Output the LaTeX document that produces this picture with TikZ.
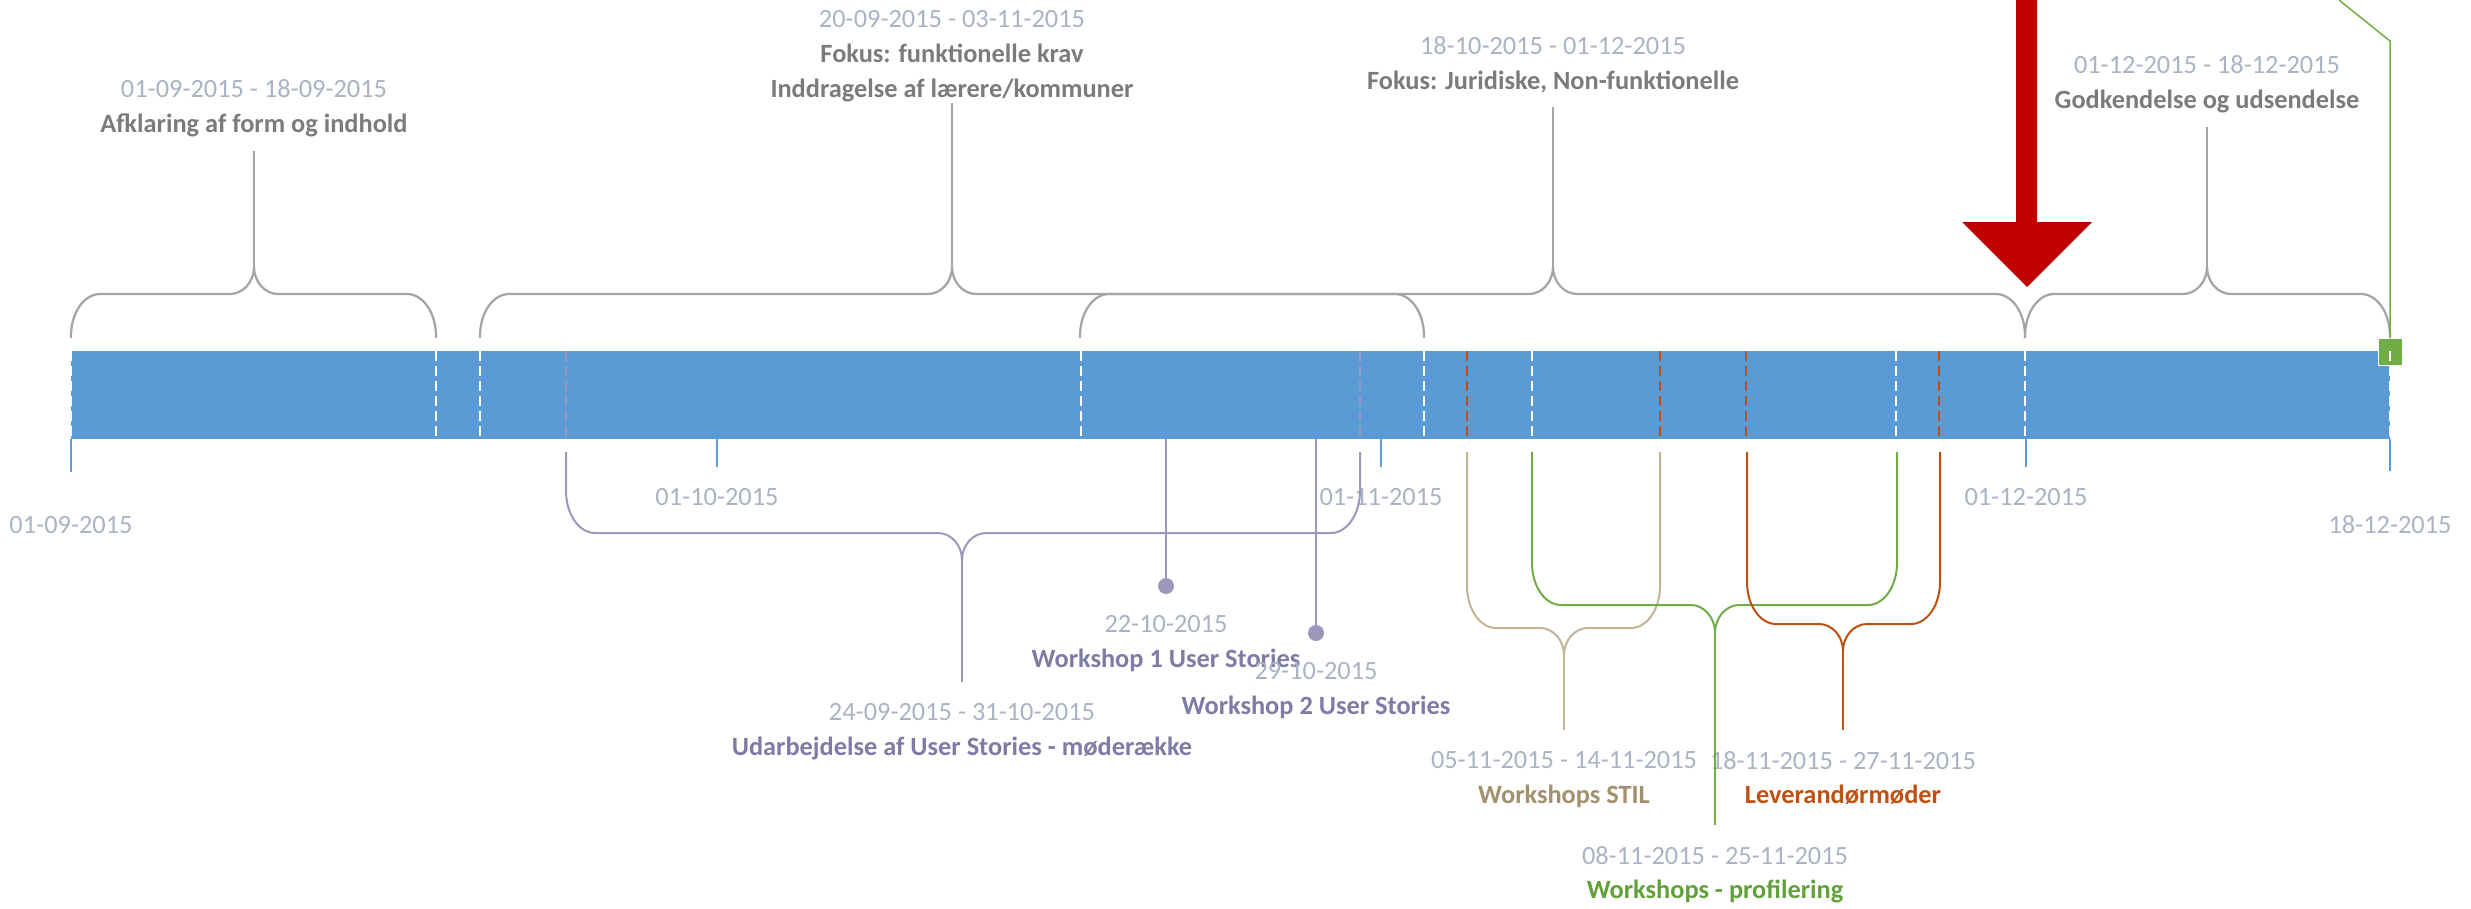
\documentclass[tikz,border=0pt]{standalone}
\usepackage{fontspec}
\setmainfont{Carlito}
\usetikzlibrary{positioning}
\definecolor{barblue}{HTML}{5B9BD5}
\definecolor{bracegray}{HTML}{A5A5A5}
\definecolor{titlegray}{HTML}{7B7B7B}
\definecolor{dategray}{HTML}{A9B3C4}
\definecolor{wspurple}{HTML}{9B98BC}
\definecolor{wspurpletext}{HTML}{7E7BA4}
\definecolor{stiltan}{HTML}{C4B496}
\definecolor{stiltext}{HTML}{A3906E}
\definecolor{profgreen}{HTML}{70AD47}
\definecolor{proftext}{HTML}{62A03A}
\definecolor{levorange}{HTML}{C0500F}
\definecolor{arrowred}{HTML}{C00000}
\newcommand{\lblfont}{\fontsize{15pt}{19.9pt}\selectfont}
\newcommand{\dt}[1]{{\color{dategray}#1}}
% brace: [style]{tip name}{left}{centre}{right}{y ends}{y flat}{y tip}
\newcommand{\tlbrace}[8][]{%
  \pgfmathsetmacro{\tbA}{#7+42*sign(#6-#7)}%
  \pgfmathsetmacro{\tbB}{\tbA+0.552*(#7-\tbA)}%
  \pgfmathsetmacro{\tbC}{#8+0.552*(#7-#8)}%
  \coordinate (#2) at (#4,#8);
  \draw[#1] (#3,#6) -- (#3,\tbA) .. controls (#3,\tbB) and ({#3+13},#7) .. ({#3+29},#7)
    -- ({#4-24},#7) .. controls ({#4-11},#7) and (#4,\tbC) .. (#2)
    .. controls (#4,\tbC) and ({#4+11},#7) .. ({#4+24},#7)
    -- ({#5-29},#7) .. controls ({#5-13},#7) and (#5,\tbB) .. (#5,\tbA) -- (#5,#6);}
\tikzset{bar/.style = {fill=barblue, inner sep=0, outer sep=0, minimum width=463.8mm, minimum height=17.6mm}}
\tikzset{wdash/.style = {white, line width=0.4mm, dash pattern=on 2mm off 1mm}}
\tikzset{pdash/.style = {wdash, wspurple}}
\tikzset{odash/.style = {wdash, levorange}}
\tikzset{tick/.style = {barblue, line width=0.4mm}}
\tikzset{graybrace/.style = {bracegray, line width=0.45mm}}
\tikzset{purpline/.style = {wspurple, line width=0.4mm}}
\tikzset{stilline/.style = {stiltan, line width=0.4mm}}
\tikzset{profline/.style = {profgreen, line width=0.4mm}}
\tikzset{levline/.style = {levorange, line width=0.4mm}}
\tikzset{toplab/.style = {align=center, font=\lblfont, text=titlegray, inner sep=0pt, outer ysep=2.8mm, anchor=south}}
\tikzset{botlab/.style = {align=center, font=\lblfont, inner sep=0pt, outer ysep=4.2mm, anchor=north}}
\tikzset{datelab/.style = {botlab, text=dategray}}
\tikzset{wsdot/.style = {circle, fill=wspurple, inner sep=0pt, minimum size=3.2mm}}
\tikzset{milestone/.style = {fill=profgreen, draw=white, line width=0.2mm, inner sep=0, minimum width=4.8mm, minimum height=5.4mm}}

\begin{document}
\begin{tikzpicture}[x=0.2mm, y=-0.2mm]
        \useasboundingbox (0,0) rectangle (2471,909);
        % timeline
        \node[bar] (bar) at (1230.5,395) {};
        \node[milestone] (ms) at (2390,351.5) {};
        \foreach \x in {71,436,480,1081,1424,1532,1896,2025,2390} \draw[wdash] (\x,351) -- (\x,439);
        \foreach \x in {566,1360} \draw[pdash] (\x,351) -- (\x,439);
        \foreach \x in {1467,1660,1746,1939} \draw[odash] (\x,351) -- (\x,439);
        % dates under the bar
        \node[datelab, outer ysep=8.9mm] (d1) at (71,472) {01-09-2015};
        \node[datelab] (d2) at (717,467) {01-10-2015};
        \node[datelab] (d3) at (1381,467) {01-11-2015};
        \node[datelab] (d4) at (2026,467) {01-12-2015};
        \node[datelab, outer ysep=8.9mm] (d5) at (2390,471) {18-12-2015};
        \foreach \d in {d1,d2,d3,d4,d5} \draw[tick] (bar.south -| \d.north) -- (\d.north);
        % phases above
        \tlbrace[graybrace]{tip1}{71}{254}{436}{338}{294}{267}
        \tlbrace[graybrace]{tip2}{480}{952}{1424}{338}{294}{267}
        \tlbrace[graybrace]{tip3}{1080}{1553}{2025}{338}{294}{267}
        \tlbrace[graybrace]{tip4}{2025}{2207}{2390}{338}{294}{267}
        \node[toplab] (lab1) at (254,151) {\dt{01-09-2015 - 18-09-2015}\\\textbf{Afklaring af form og indhold}};
        \node[toplab, outer ysep=0.2mm] (lab2) at (952,103) {\dt{20-09-2015 - 03-11-2015}\\\textbf{Fokus: funktionelle krav}\\\textbf{Inddragelse af lærere/kommuner}};
        \node[toplab] (lab3) at (1553,107) {\dt{18-10-2015 - 01-12-2015}\\\textbf{Fokus: Juridiske, Non-funktionelle}};
        \node[toplab] (lab4) at (2207,127) {\dt{01-12-2015 - 18-12-2015}\\\textbf{Godkendelse og udsendelse}};
        \foreach \t/\l in {tip1/lab1,tip2/lab2,tip3/lab3,tip4/lab4} \draw[graybrace, line width=0.4mm] (\t) -- (\l);
        % activities below
        \tlbrace[purpline]{tipP}{566}{962}{1360}{452}{533}{560}
        \tlbrace[stilline]{tipS}{1467}{1564}{1660}{452}{628}{655}
        \tlbrace[profline]{tipG}{1532}{1715}{1897}{452}{605}{633}
        \tlbrace[levline]{tipL}{1747}{1843}{1940}{452}{624}{651}
        \node[botlab, text=wspurpletext] (labP) at (962,682) {\dt{24-09-2015 - 31-10-2015}\\\textbf{Udarbejdelse af User Stories - møderække}};
        \node[botlab, text=stiltext] (labS) at (1564,730) {\dt{05-11-2015 - 14-11-2015}\\\textbf{Workshops STIL}};
        \node[botlab, text=proftext] (labG) at (1715,825) {\dt{08-11-2015 - 25-11-2015}\\\textbf{Workshops - profilering}};
        \node[botlab, text=levorange] (labL) at (1843,730) {\dt{18-11-2015 - 27-11-2015}\\\textbf{Leverandørmøder}};
        \draw[purpline] (tipP) -- (labP);
        \draw[stilline] (tipS) -- (labS);
        \draw[profline] (tipG) -- (labG);
        \draw[levline] (tipL) -- (labL);
        % workshops
        \node[wsdot] (ws1dot) at (1166,586) {};
        \node[wsdot] (ws2dot) at (1316,633) {};
        \draw[purpline] (bar.south -| ws1dot) -- (ws1dot);
        \draw[purpline] (bar.south -| ws2dot) -- (ws2dot);
        \node[botlab, text=wspurpletext, below=0pt of ws1dot] (ws1) {\dt{22-10-2015}\\\textbf{Workshop 1 User Stories}};
        \node[botlab, text=wspurpletext, below=0pt of ws2dot] (ws2) {\dt{29-10-2015}\\\textbf{Workshop 2 User Stories}};
        % today and milestone
        \fill[arrowred] (2016,0) -- (2037,0) -- (2037,222) -- (2092,222) -- (2027,287) -- (1962,222) -- (2016,222) -- cycle;
        \coordinate (gtop) at (2339,0);
        \draw[profline, line width=0.3mm] (gtop) -- (2390,41) -- (ms.north);
    \end{tikzpicture}
\end{document}
